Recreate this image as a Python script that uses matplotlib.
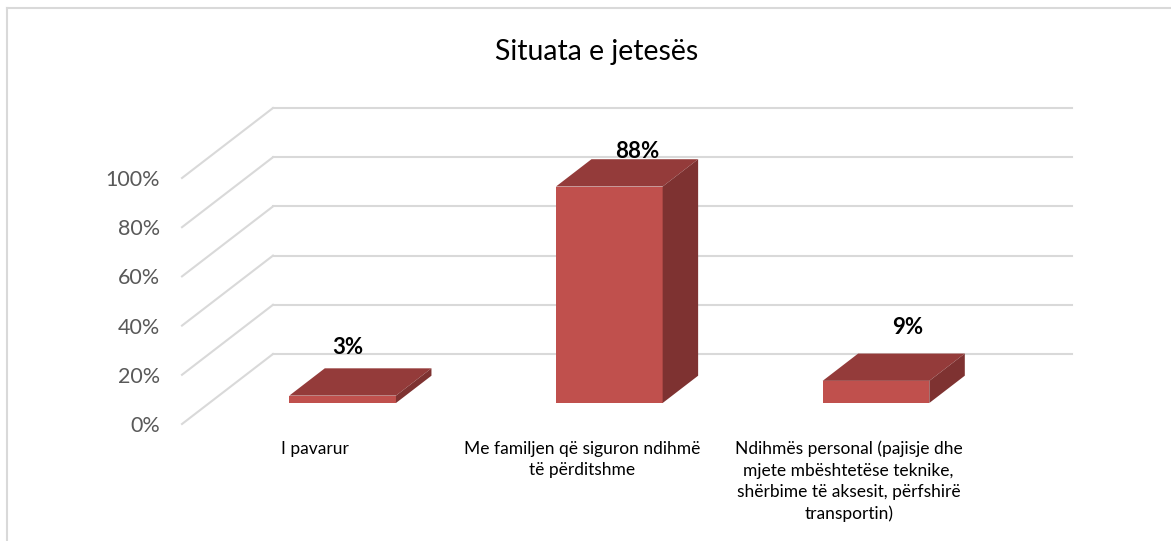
import matplotlib
matplotlib.use("Agg")
import matplotlib.pyplot as plt
from matplotlib.patches import Polygon
from matplotlib.lines import Line2D

# ---- data ----
categories = ["I pavarur",
              "Me familjen që siguron ndihmë\ntë përditshme",
              "Ndihmës personal (pajisje dhe\nmjete mbështetëse teknike,\nshërbime të aksesit, përfshirë\ntransportin)"]
values = [3, 88, 9]
value_labels = ["3%", "88%", "9%"]
yticks = [0, 20, 40, 60, 80, 100]
ytick_labels = ["0%", "20%", "40%", "60%", "80%", "100%"]
title = "Situata e jetesës"

# ---- style / geometry ----
W, H = 1171, 541
DPI = 100
FONT = "Lato"
front_col = "#C0504D"
top_col = "#943B3A"
side_col = "#7E3231"
grid_col = "#D9D9D9"

# depth of the full floor in data units (x in categories, y in percent)
DX = 91 / 266.67
DY = 70 / 2.46
z0, z1 = 0.30, 0.69      # bar depth range (fraction of floor depth)
bw = 0.40                # bar width (category units)
label_off = [(0.12, 28.3), (0.206, 22.6), (0.222, 30.4)]

fig = plt.figure(figsize=(W / DPI, H / DPI), dpi=DPI)
ax = fig.add_axes([0, 0, 1, 1])
# pixel -> data mapping: px = 182 + (x+0.5)*266.67 ; py = 424 - y*2.46
ax.set_xlim((0 - 182) / 266.67 - 0.5, (W - 182) / 266.67 - 0.5)
ax.set_ylim((424 - H) / 2.46, (424 - 0) / 2.46)
ax.axis("off")

# outer frame (light gray)
fig.add_artist(Line2D([7 / W, 7 / W], [0, 1 - 8 / H], color=grid_col, lw=1.5, transform=fig.transFigure))
fig.add_artist(Line2D([7 / W, 1], [1 - 8 / H, 1 - 8 / H], color=grid_col, lw=1.5, transform=fig.transFigure))

x_left = -0.5
x_right_back = (1072 - 182) / 266.67 - 0.5
for v, lab in zip(yticks, ytick_labels):
    ax.plot([x_left, x_left + DX], [v, v + DY], color=grid_col, lw=1.5, zorder=1)
    ax.plot([x_left + DX, x_right_back], [v + DY, v + DY], color=grid_col, lw=1.5, zorder=1)
    ax.text(x_left - 0.083, v - 0.8, lab, ha="right", va="center", fontsize=15.5,
            color="#595959", family=FONT)

for i, v in enumerate(values):
    fx0 = i - bw / 2 + z0 * DX
    fy0 = z0 * DY
    ox = (z1 - z0) * DX
    oy = (z1 - z0) * DY
    ax.bar(fx0 + bw / 2, v, width=bw, bottom=fy0, color=front_col, zorder=3, linewidth=0)
    top = Polygon([(fx0, fy0 + v), (fx0 + bw, fy0 + v), (fx0 + bw + ox, fy0 + v + oy),
                   (fx0 + ox, fy0 + v + oy)], closed=True, facecolor=top_col, edgecolor="none", zorder=3)
    side = Polygon([(fx0 + bw, fy0), (fx0 + bw + ox, fy0 + oy), (fx0 + bw + ox, fy0 + v + oy),
                    (fx0 + bw, fy0 + v)], closed=True, facecolor=side_col, edgecolor="none", zorder=3)
    ax.add_patch(top)
    ax.add_patch(side)
    dx, dy = label_off[i]
    ax.text(i + dx, v + dy, value_labels[i], ha="center", va="center", fontsize=16,
            fontweight="bold", color="black", family=FONT, zorder=5)

for i, c in enumerate(categories):
    ax.text(i, -6.8, c, ha="center", va="top", fontsize=12.5, color="black",
            family=FONT, linespacing=1.42)

fig.text(597 / W, 1 - 52 / H, title, ha="center", va="center", fontsize=20.5, family=FONT)

fig.savefig("out.png", dpi=DPI, facecolor="white")
